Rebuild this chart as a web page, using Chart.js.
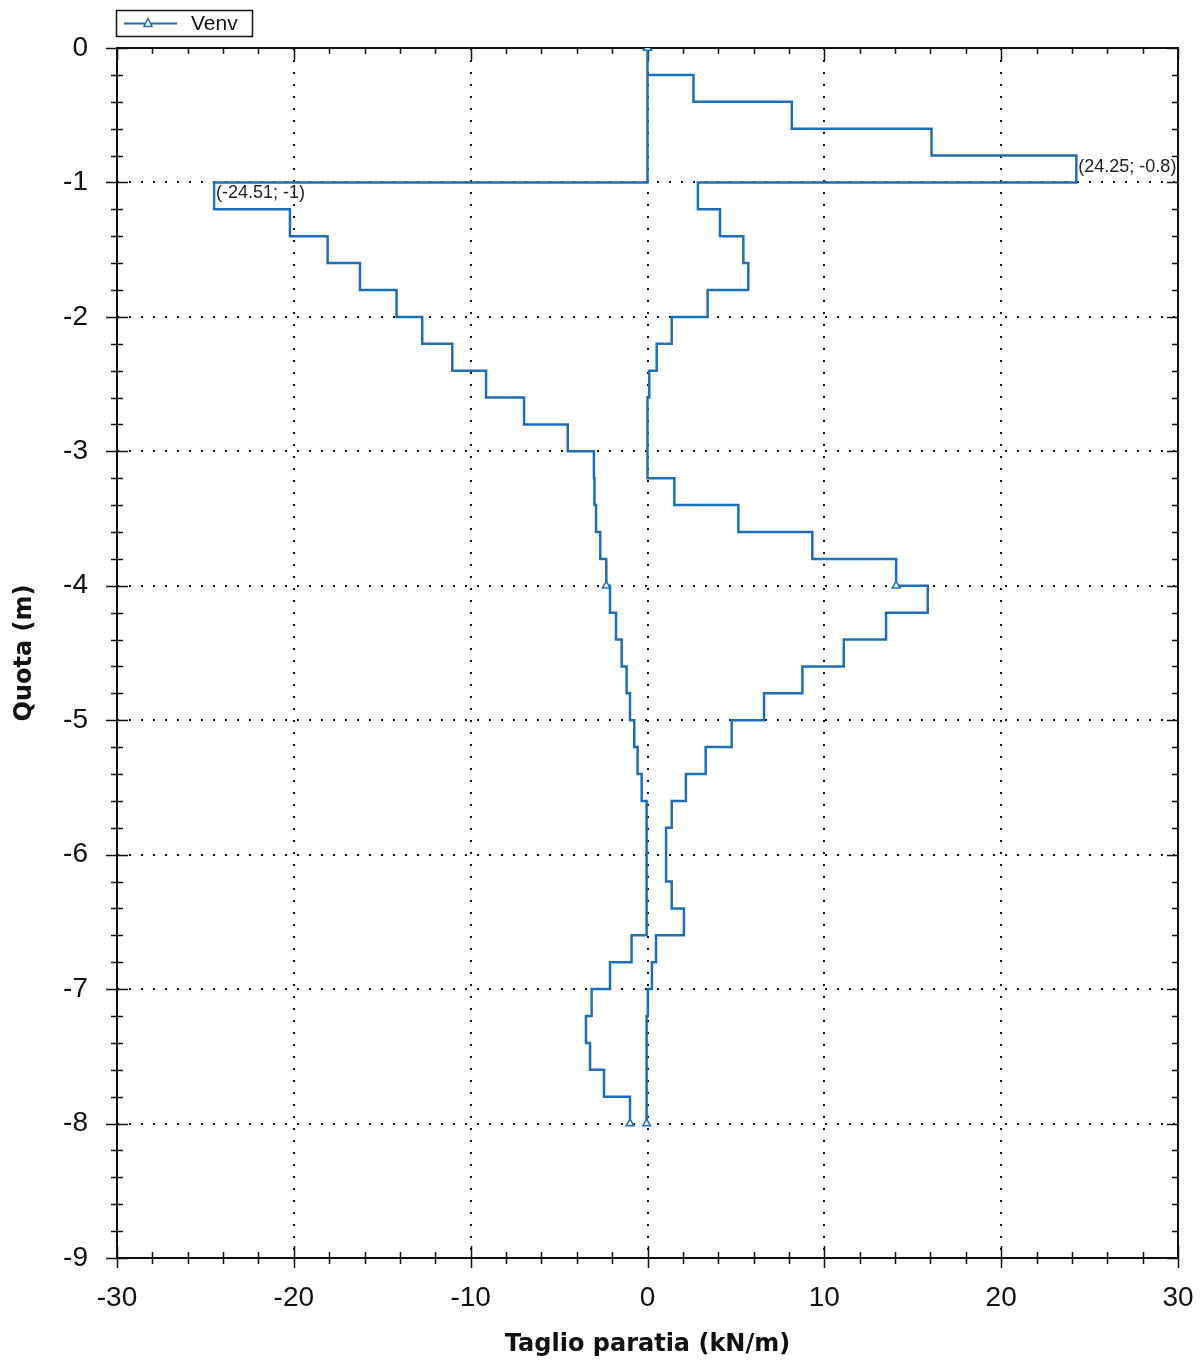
<!DOCTYPE html>
<html>
<head>
<meta charset="utf-8">
<script src="https://cdn.jsdelivr.net/npm/chart.js@4.4.0/dist/chart.umd.min.js"></script>
<style>
  html, body { margin: 0; padding: 0; background: #ffffff; }
  #wrap { position: relative; width: 1200px; height: 1366px; }
</style>
</head>
<body>
<div id="wrap"><canvas id="c" width="1200" height="1366"></canvas></div>
<script>
// ---- data ----
const seriesLabel = 'Venv';
// depth boundaries of the 0.2 m slabs (m)
const depths = [0, -0.2, -0.4, -0.6, -0.8, -1, -1.2, -1.4, -1.6, -1.8, -2, -2.2, -2.4, -2.6, -2.8, -3, -3.2, -3.4, -3.6, -3.8, -4,
                -4.2, -4.4, -4.6, -4.8, -5, -5.2, -5.4, -5.6, -5.8, -6, -6.2, -6.4, -6.6, -6.8, -7, -7.2, -7.4, -7.6, -7.8, -8];
// envelope maximum shear in each slab (kN/m)
const vMax = [0, 2.6, 8.16, 16.06, 24.25, 2.85, 4.1, 5.42, 5.7, 3.4,
              1.37, 0.52, 0.1, 0, 0, 0, 1.52, 5.14, 9.32, 14.06,
              15.85, 13.49, 11.1, 8.76, 6.59, 4.76, 3.29, 2.17, 1.37, 1.05,
              1.05, 1.37, 2.06, 0.48, 0.25, 0.02, -0.05, -0.05, -0.05, -0.05];
// envelope minimum shear in each slab (kN/m)
const vMin = [0, 0, 0, 0, 0, -24.51, -20.22, -18.09, -16.26, -14.19,
              -12.74, -11.04, -9.13, -6.98, -4.51, -3.03, -3.0, -2.91, -2.67, -2.33,
              -2.12, -1.78, -1.46, -1.18, -0.99, -0.75, -0.56, -0.33, -0.05, -0.05,
              -0.05, -0.05, -0.05, -0.9, -2.12, -3.16, -3.48, -3.25, -2.46, -0.99];
// depths where a marker is drawn
const markerDepths = [0, -4, -8];
// labelled extreme points
const annX = [24.25, -24.51];
const annY = [-0.8, -1];
// axis ranges / tick steps
const xRange = [-30, 30];
const yRange = [-9, 0];
const xMajorStep = 10, xMinorStep = 2;
const yMajorStep = 1, yMinorStep = 0.2;
const xTitle = 'Taglio paratia (kN/m)';
const yTitle = 'Quota (m)';

// ---- build stepped polyline points from the arrays ----
function branch(vals) {
  const pts = [], marks = [];
  for (let i = 0; i < vals.length; i++) {
    pts.push({x: vals[i], y: depths[i]});
    marks.push(i === 0 && markerDepths.includes(depths[i]));
    pts.push({x: vals[i], y: depths[i + 1]});
    marks.push(markerDepths.includes(depths[i + 1]));
  }
  return {pts, marks};
}
const bMax = branch(vMax), bMin = branch(vMin);
const linePts = [...bMax.pts, {x: null, y: null}, ...bMin.pts];
const lineMarks = [...bMax.marks, false, ...bMin.marks];

const BLUE = '#1f6fb6';
const isMult = (v, s) => Math.abs(v / s - Math.round(v / s)) < 1e-6;

const frameTicks = {
  id: 'frameTicks',
  beforeDatasetsDraw(chart) {
    const {ctx, chartArea: a, scales: {x, y}} = chart;
    ctx.save();
    ctx.strokeStyle = '#111';
    ctx.lineWidth = 1.5;
    x.ticks.forEach(t => {
      const px = Math.round(x.getPixelForValue(t.value)) + 0.5;
      const major = isMult(t.value, xMajorStep);
      ctx.beginPath();
      ctx.moveTo(px, a.bottom - (major ? 12 : 6));
      ctx.lineTo(px, a.bottom + (major ? 10 : 6));
      ctx.moveTo(px, a.top);
      ctx.lineTo(px, a.top + (major ? 12 : 6));
      ctx.stroke();
    });
    y.ticks.forEach(t => {
      const py = Math.round(y.getPixelForValue(t.value)) + 0.5;
      const major = isMult(t.value, yMajorStep);
      ctx.beginPath();
      ctx.moveTo(a.left - (major ? 11 : 6), py);
      ctx.lineTo(a.left + (major ? 11 : 6), py);
      ctx.moveTo(a.right, py);
      ctx.lineTo(a.right - (major ? 11 : 6), py);
      ctx.stroke();
    });
    ctx.lineWidth = 2;
    ctx.strokeRect(Math.round(a.left), Math.round(a.top), Math.round(a.width), Math.round(a.height));
    ctx.restore();
  },
  afterDraw(chart) {
    const {ctx, scales: {x, y}} = chart;
    ctx.save();
    // annotations of the extreme values
    ctx.font = "18px 'Liberation Sans', Arial, sans-serif";
    ctx.fillStyle = '#222';
    ctx.textAlign = 'left';
    ctx.textBaseline = 'middle';
    annX.forEach((vx, i) => {
      const px = x.getPixelForValue(vx), py = y.getPixelForValue(annY[i]);
      ctx.fillText('(' + vx + '; ' + annY[i] + ')', px + 2, py + 11);
    });
    // legend box
    const lx = 116, ly = 10, lw = 136, lh = 26;
    ctx.fillStyle = '#fff';
    ctx.fillRect(lx, ly, lw, lh);
    ctx.strokeStyle = '#111';
    ctx.lineWidth = 1.5;
    ctx.strokeRect(lx + 0.5, ly + 0.5, lw, lh);
    ctx.strokeStyle = BLUE;
    ctx.lineWidth = 2;
    ctx.beginPath();
    ctx.moveTo(124, ly + 13.5);
    ctx.lineTo(177, ly + 13.5);
    ctx.stroke();
    ctx.fillStyle = '#fff';
    ctx.lineWidth = 1.5;
    ctx.beginPath();
    ctx.moveTo(148, ly + 8.5);
    ctx.lineTo(152, ly + 16.5);
    ctx.lineTo(144, ly + 16.5);
    ctx.closePath();
    ctx.fill();
    ctx.stroke();
    ctx.fillStyle = '#111';
    ctx.font = "21px 'Liberation Sans', Arial, sans-serif";
    ctx.fillText(seriesLabel, 191, ly + 14);
    ctx.restore();
  }
};

const tickFont = {family: "'Liberation Sans', Arial, sans-serif", size: 28};
const titleFont = {family: "'DejaVu Sans', Verdana, sans-serif", size: 24, weight: 'bold'};

new Chart(document.getElementById('c'), {
  type: 'scatter',
  data: {
    datasets: [{
      label: seriesLabel,
      data: linePts,
      showLine: true,
      spanGaps: false,
      borderColor: BLUE,
      borderWidth: 2.5,
      borderJoinStyle: 'miter',
      tension: 0,
      pointStyle: 'triangle',
      pointRadius: c => lineMarks[c.dataIndex] ? 4.5 : 0,
      pointHoverRadius: 0,
      pointBackgroundColor: '#fff',
      pointBorderColor: BLUE,
      pointBorderWidth: 1.5
    }]
  },
  options: {
    responsive: false,
    animation: false,
    devicePixelRatio: 1,
    layout: {padding: {top: 48, right: 22, left: 0, bottom: 0}},
    plugins: {legend: {display: false}, tooltip: {enabled: false}},
    scales: {
      x: {
        type: 'linear',
        min: xRange[0], max: xRange[1],
        afterFit: s => { s.height = 108; s.paddingLeft = 0; s.paddingRight = 0; },
        ticks: {
          stepSize: xMinorStep, autoSkip: false, maxRotation: 0,
          font: tickFont, color: '#111', padding: 23,
          callback: v => isMult(v, xMajorStep) ? String(v) : ''
        },
        grid: {
          drawTicks: false, lineWidth: 2,
          color: c => (c.tick && isMult(c.tick.value, xMajorStep)) ? '#111' : 'rgba(0,0,0,0)'
        },
        border: {display: false, dash: [2, 10]},
        title: {display: true, text: xTitle, font: titleFont, color: '#111', padding: {top: 0, bottom: 7}}
      },
      y: {
        type: 'linear',
        min: yRange[0], max: yRange[1],
        afterFit: s => { s.width = 117; s.paddingTop = 0; s.paddingBottom = 0; },
        ticks: {
          stepSize: yMinorStep, autoSkip: false,
          font: tickFont, color: '#111', padding: 29,
          callback: v => isMult(v, yMajorStep) ? String(Math.round(v) === 0 ? 0 : Math.round(v)) : ''
        },
        grid: {
          drawTicks: false, lineWidth: 2,
          color: c => (c.tick && isMult(c.tick.value, yMajorStep)) ? '#111' : 'rgba(0,0,0,0)'
        },
        border: {display: false, dash: [2, 10]},
        title: {display: true, text: yTitle, font: titleFont, color: '#111', padding: {top: 10, bottom: 0}}
      }
    }
  },
  plugins: [frameTicks]
});
</script>
</body>
</html>
